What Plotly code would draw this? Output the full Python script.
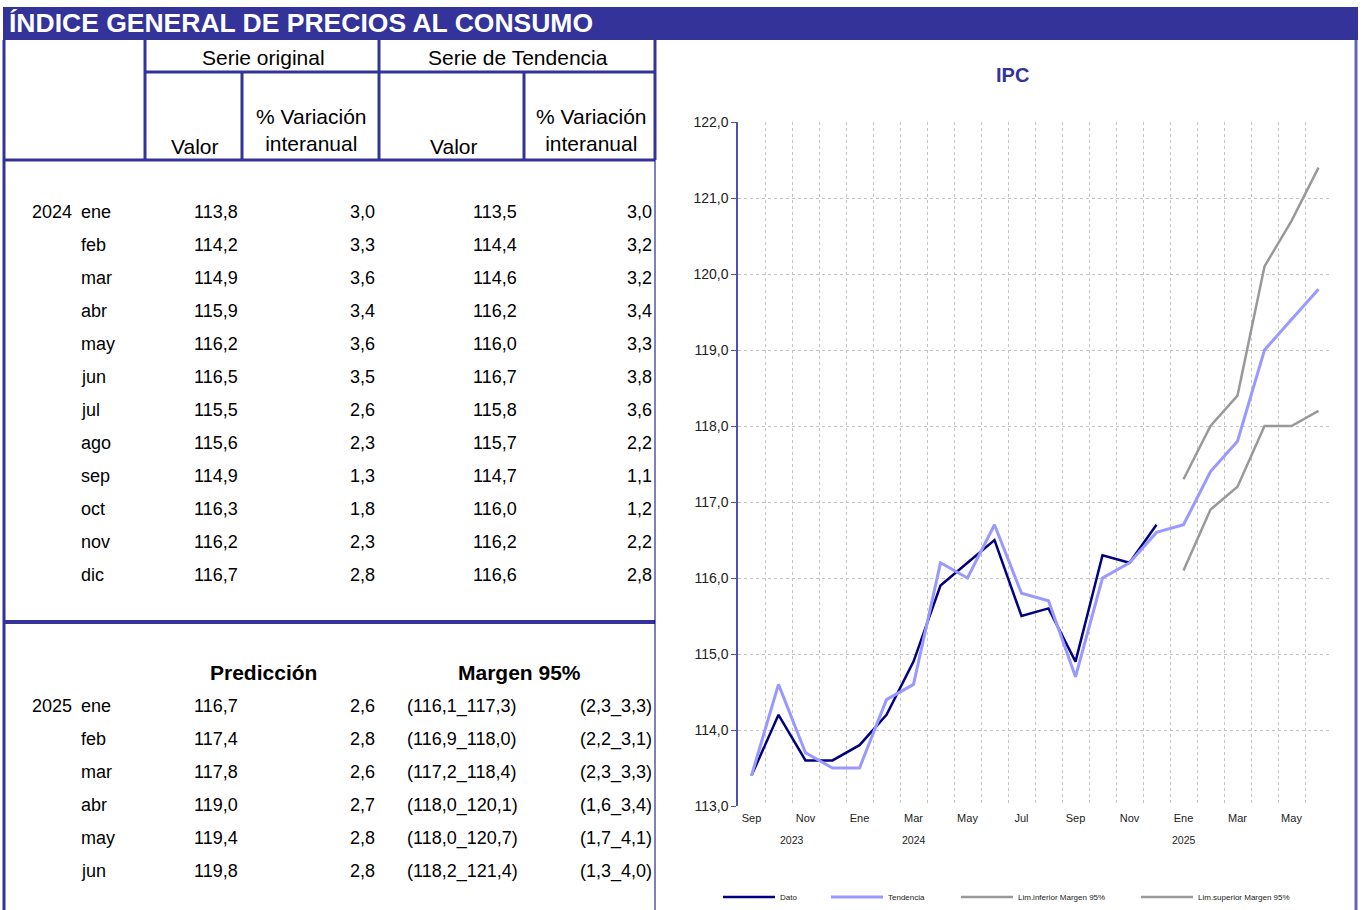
import plotly.graph_objects as go

W, H = 1363, 910

# ---------------- data ----------------
title_text = "ÍNDICE GENERAL DE PRECIOS AL CONSUMO"
months_2024 = ["ene", "feb", "mar", "abr", "may", "jun", "jul", "ago", "sep", "oct", "nov", "dic"]
orig_val_2024 = [113.8, 114.2, 114.9, 115.9, 116.2, 116.5, 115.5, 115.6, 114.9, 116.3, 116.2, 116.7]
orig_var_2024 = [3.0, 3.3, 3.6, 3.4, 3.6, 3.5, 2.6, 2.3, 1.3, 1.8, 2.3, 2.8]
tend_val_2024 = [113.5, 114.4, 114.6, 116.2, 116.0, 116.7, 115.8, 115.7, 114.7, 116.0, 116.2, 116.6]
tend_var_2024 = [3.0, 3.2, 3.2, 3.4, 3.3, 3.8, 3.6, 2.2, 1.1, 1.2, 2.2, 2.8]

pred_months = ["ene", "feb", "mar", "abr", "may", "jun"]
pred_val = [116.7, 117.4, 117.8, 119.0, 119.4, 119.8]
pred_var = [2.6, 2.8, 2.6, 2.7, 2.8, 2.8]
lim_inf = [116.1, 116.9, 117.2, 118.0, 118.0, 118.2]
lim_sup = [117.3, 118.0, 118.4, 120.1, 120.7, 121.4]
var_inf = [2.3, 2.2, 2.3, 1.6, 1.7, 1.3]
var_sup = [3.3, 3.1, 3.3, 3.4, 4.1, 4.0]

# chart (Sep 2023 .. Jun 2025)
chart_months = ["Sep", "Oct", "Nov", "Dic",
                "Ene", "Feb", "Mar", "Abr", "May", "Jun", "Jul", "Ago", "Sep", "Oct", "Nov", "Dic",
                "Ene", "Feb", "Mar", "Abr", "May", "Jun"]
dato_2023 = [113.4, 114.2, 113.6, 113.6]
tend_2023 = [113.4, 114.6, 113.7, 113.5]
year_labels = ["2023", "2024", "2025"]
year_label_pos = [1.5, 6, 16]

# ---------------- helpers ----------------
FONT = "Liberation Sans, Arial, sans-serif"
BLUE = "#333399"


def fx(x):
    return x / W


def fy(y):
    return 1 - y / H


def fmt(v):
    return f"{v:.1f}".replace(".", ",")


annotations = []
shapes = []


def txt(x, y, s, anchor="center", size=18, color="black", bold=False):
    annotations.append(dict(
        x=fx(x), y=fy(y), xref="paper", yref="paper", text=(f"<b>{s}</b>" if bold else s),
        showarrow=False, xanchor=anchor, yanchor="middle",
        font=dict(family=FONT, size=size, color=color), borderpad=0))


def hline(y, x0, x1, w=3, color=BLUE):
    shapes.append(dict(type="line", xref="paper", yref="paper", x0=fx(x0), x1=fx(x1),
                       y0=fy(y), y1=fy(y), line=dict(color=color, width=w), layer="above"))


def vline(x, y0, y1, w=3, color=BLUE):
    shapes.append(dict(type="line", xref="paper", yref="paper", x0=fx(x), x1=fx(x),
                       y0=fy(y0), y1=fy(y1), line=dict(color=color, width=w), layer="above"))


# header band
shapes.append(dict(type="rect", xref="paper", yref="paper", x0=fx(3), x1=fx(1358), y0=fy(7), y1=fy(40),
                   fillcolor=BLUE, line=dict(width=0), layer="below"))
txt(8, 23, title_text, anchor="left", size=26.5, color="white", bold=True)

# table lines
vline(4, 40, 910, w=3)
vline(145, 40, 160)
vline(379, 40, 160)
vline(242, 72, 160)
vline(524, 72, 160)
hline(72, 145, 655)
hline(160, 3, 655)
hline(622, 3, 655, w=4)
vline(655, 40, 160, w=3)
vline(655, 160, 910, w=1, color="#000080")
# chart box
vline(1356, 40, 910, w=3, color="#6464b4")

# table headers
txt(263, 58, "Serie original", size=21)
txt(518, 58, "Serie de Tendencia", size=21)
txt(195, 146, "Valor", size=21)
txt(311, 130, "% Variación<br>interanual", size=21)
txt(453, 146, "Valor", size=21)
txt(591, 130, "% Variación<br>interanual", size=21)

# 2024 rows
for i, m in enumerate(months_2024):
    y = 212 + 33 * i
    if i == 0:
        txt(73, y, "2024", anchor="right")
    txt(80, y, m, anchor="left")
    txt(239, y, fmt(orig_val_2024[i]), anchor="right")
    txt(376, y, fmt(orig_var_2024[i]), anchor="right")
    txt(518, y, fmt(tend_val_2024[i]), anchor="right")
    txt(653, y, fmt(tend_var_2024[i]), anchor="right")

# prediction
txt(263, 672, "Predicción", size=21, bold=True)
txt(519, 672, "Margen 95%", size=21, bold=True)
for i, m in enumerate(pred_months):
    y = 706 + 33 * i
    if i == 0:
        txt(73, y, "2025", anchor="right")
    txt(80, y, m, anchor="left")
    txt(239, y, fmt(pred_val[i]), anchor="right")
    txt(376, y, fmt(pred_var[i]), anchor="right")
    txt(406, y, f"({fmt(lim_inf[i])}_{fmt(lim_sup[i])})", anchor="left")
    txt(653, y, f"({fmt(var_inf[i])}_{fmt(var_sup[i])})", anchor="right")

# chart title
txt(1012, 75, "IPC", size=20, color=BLUE, bold=True)

# year labels under axis
for lab, pos in zip(year_labels, year_label_pos):
    annotations.append(dict(x=pos, y=fy(840), xref="x", yref="paper", text=lab, showarrow=False,
                            xanchor="center", yanchor="middle",
                            font=dict(family=FONT, size=10.5, color="#222")))

# ---------------- chart traces ----------------
n = len(chart_months)
xs = list(range(n))
dato = dato_2023 + orig_val_2024
tend = tend_2023 + tend_val_2024 + pred_val
pred_start = len(dato_2023) + len(orig_val_2024)

fig = go.Figure()
fig.add_trace(go.Scatter(x=xs[:len(dato)], y=dato, mode="lines", name="Dato",
                         line=dict(color="#000080", width=2.5), legend="legend"))
fig.add_trace(go.Scatter(x=xs[:len(tend)], y=tend, mode="lines", name="Tendencia",
                         line=dict(color="#9999ff", width=3), legend="legend2"))
fig.add_trace(go.Scatter(x=xs[pred_start:], y=lim_inf, mode="lines", name="Lim.inferior Margen 95%",
                         line=dict(color="#999999", width=2.5), legend="legend3"))
fig.add_trace(go.Scatter(x=xs[pred_start:], y=lim_sup, mode="lines", name="Lim.superior Margen 95%",
                         line=dict(color="#999999", width=2.5), legend="legend4"))

legend_common = dict(orientation="h", yanchor="middle", xanchor="left", itemwidth=52,
                     font=dict(family=FONT, size=8, color="#222"), bgcolor="rgba(0,0,0,0)",
                     borderwidth=0)
leg_x = [718, 826, 956, 1136]

fig.update_layout(
    width=W, height=H, margin=dict(l=0, r=0, t=0, b=0, autoexpand=False), autosize=False,
    paper_bgcolor="white", plot_bgcolor="white", separators=",.",
    font=dict(family=FONT),
    showlegend=True,
    legend=dict(x=fx(leg_x[0]), y=fy(897), **legend_common),
    legend2=dict(x=fx(leg_x[1]), y=fy(897), **legend_common),
    legend3=dict(x=fx(leg_x[2]), y=fy(897), **legend_common),
    legend4=dict(x=fx(leg_x[3]), y=fy(897), **legend_common),
    xaxis=dict(domain=[fx(738), fx(1332)], range=[-0.5, n - 0.5],
               tickvals=xs[::2], ticktext=chart_months[::2],
               showgrid=False, zeroline=False, showline=False, ticks="",
               ticklabelstandoff=4,
               tickfont=dict(family=FONT, size=11, color="#222"),
               minor=dict(tickvals=[i + 0.5 for i in xs], showgrid=True,
                          gridcolor="#c4c4c4", griddash="dot", gridwidth=1, ticks="")),
    yaxis=dict(domain=[fy(806), fy(122)], range=[113, 122], dtick=1, tickformat=".1f",
               showgrid=True, gridcolor="#c4c4c4", griddash="dot", gridwidth=1,
               zeroline=False, showline=True, linecolor="#5050b0", linewidth=1.5,
               ticks="outside", ticklen=5, tickcolor="#5050b0",
               tickfont=dict(family=FONT, size=14, color="#222")),
    shapes=shapes, annotations=annotations,
)

fig.write_html("out.html", config={"displayModeBar": False},
               post_script="document.body.style.margin='0';document.body.style.overflow='hidden';")
